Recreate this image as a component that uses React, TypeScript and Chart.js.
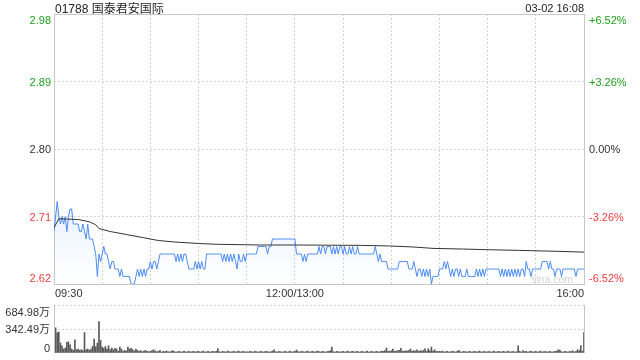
import { useEffect, useRef } from "react";
import { Chart, registerables } from "chart.js";

Chart.register(...registerables);

const title = "01788 国泰君安国际";
const timestamp = "03-02 16:08";
const watermark = "sina.com";
const prevClose = 2.8;

const priceTicks = [2.62, 2.71, 2.8, 2.89, 2.98];
const priceTickLabels = ["2.62", "2.71", "2.80", "2.89", "2.98"];
const pctTickLabels = ["-6.52%", "-3.26%", "0.00%", "+3.26%", "+6.52%"];

const timeLabels = ["09:30", "12:00/13:00", "16:00"];
const timeLabelMinutes = [0, 150, 330];

const volumeTicks = [0, 342.49, 684.98];
const volumeTickLabels = ["0", "342.49万", "684.98万"];

// price per minute, index 0 = 09:30, 150 = 12:00/13:00, 330 = 16:00
const price = [
  2.69, 2.71, 2.73, 2.71, 2.7, 2.71, 2.7, 2.71, 2.69, 2.71,
  2.72, 2.72, 2.7, 2.7, 2.7, 2.7, 2.69, 2.69, 2.7, 2.69,
  2.68, 2.7, 2.68, 2.68, 2.68, 2.67, 2.66, 2.63, 2.66, 2.65,
  2.66, 2.67, 2.66, 2.66, 2.65, 2.64, 2.65, 2.65, 2.64, 2.64,
  2.64, 2.63, 2.64, 2.63, 2.63, 2.63, 2.63, 2.63, 2.62, 2.62,
  2.62, 2.63, 2.64, 2.63, 2.64, 2.63, 2.64, 2.63, 2.64, 2.64,
  2.65, 2.64, 2.65, 2.65, 2.64, 2.65, 2.66, 2.66, 2.66, 2.66,
  2.66, 2.66, 2.66, 2.66, 2.66, 2.66, 2.65, 2.66, 2.65, 2.66,
  2.65, 2.66, 2.66, 2.65, 2.64, 2.64, 2.64, 2.64, 2.65, 2.64,
  2.65, 2.64, 2.65, 2.64, 2.64, 2.66, 2.66, 2.66, 2.66, 2.66,
  2.66, 2.66, 2.66, 2.66, 2.66, 2.65, 2.66, 2.65, 2.66, 2.65,
  2.66, 2.65, 2.66, 2.65, 2.64, 2.66, 2.65, 2.65, 2.66, 2.65,
  2.66, 2.66, 2.66, 2.66, 2.66, 2.66, 2.66, 2.67, 2.67, 2.67,
  2.67, 2.67, 2.67, 2.66, 2.67, 2.67, 2.68, 2.68, 2.68, 2.68,
  2.68, 2.68, 2.68, 2.68, 2.68, 2.68, 2.68, 2.68, 2.68, 2.68,
  2.68, 2.66, 2.66, 2.66, 2.66, 2.65, 2.66, 2.65, 2.66, 2.66,
  2.66, 2.66, 2.66, 2.66, 2.66, 2.67, 2.66, 2.67, 2.67, 2.66,
  2.67, 2.67, 2.67, 2.66, 2.67, 2.66, 2.67, 2.66, 2.67, 2.67,
  2.66, 2.67, 2.66, 2.66, 2.67, 2.66, 2.67, 2.66, 2.66, 2.67,
  2.66, 2.66, 2.66, 2.66, 2.66, 2.66, 2.66, 2.66, 2.66, 2.66,
  2.67, 2.66, 2.65, 2.66, 2.65, 2.65, 2.65, 2.65, 2.64, 2.64,
  2.64, 2.64, 2.64, 2.64, 2.64, 2.65, 2.65, 2.65, 2.65, 2.65,
  2.65, 2.64, 2.64, 2.64, 2.65, 2.64, 2.63, 2.64, 2.64, 2.63,
  2.64, 2.63, 2.64, 2.63, 2.64, 2.62, 2.63, 2.63, 2.63, 2.63,
  2.64, 2.64, 2.64, 2.65, 2.64, 2.65, 2.64, 2.63, 2.64, 2.63,
  2.64, 2.64, 2.63, 2.64, 2.63, 2.63, 2.63, 2.64, 2.63, 2.63,
  2.63, 2.63, 2.63, 2.64, 2.63, 2.64, 2.63, 2.64, 2.63, 2.64,
  2.64, 2.64, 2.64, 2.64, 2.64, 2.64, 2.64, 2.64, 2.63, 2.64,
  2.63, 2.64, 2.63, 2.64, 2.63, 2.64, 2.63, 2.64, 2.63, 2.64,
  2.63, 2.64, 2.64, 2.63, 2.65, 2.64, 2.64, 2.63, 2.64, 2.64,
  2.64, 2.64, 2.64, 2.64, 2.65, 2.65, 2.65, 2.65, 2.64, 2.65,
  2.64, 2.64, 2.63, 2.64, 2.64, 2.64, 2.63, 2.64, 2.64, 2.64,
  2.64, 2.64, 2.64, 2.64, 2.64, 2.63, 2.64, 2.64, 2.64, 2.64, 2.64,
];

// average price line, read at its turning points
const avgMinutes = [0, 3, 15, 22, 26, 28, 35, 45, 55, 65, 75, 90, 101, 128, 150, 191, 209, 224, 236, 255, 271, 290, 315, 330];
const avgValues = [2.695, 2.707, 2.706, 2.703, 2.699, 2.694, 2.69, 2.686, 2.682, 2.678, 2.676, 2.674, 2.673, 2.672, 2.672, 2.6715, 2.6707, 2.6693, 2.6675, 2.6666, 2.6657, 2.6648, 2.6635, 2.6625];

// volume per minute (万)
const volume = [
  120, 360, 290, 300, 142, 104, 57, 71, 151, 160,
  118, 57, 38, 189, 47, 57, 38, 47, 33, 293,
  47, 57, 38, 57, 94, 198, 90, 142, 448, 179,
  85, 66, 94, 57, 104, 47, 71, 47, 66, 57,
  24, 85, 57, 24, 38, 28, 85, 57, 66, 47,
  28, 57, 38, 24, 33, 19, 28, 38, 24, 19,
  24, 33, 47, 28, 19, 24, 38, 14, 24, 19,
  28, 19, 14, 24, 33, 19, 14, 19, 24, 14,
  19, 28, 14, 19, 24, 14, 19, 24, 14, 19,
  24, 14, 19, 28, 14, 19, 24, 14, 19, 24,
  19, 24, 61, 19, 14, 24, 19, 14, 28, 19,
  14, 19, 24, 14, 19, 28, 14, 19, 24, 14,
  19, 14, 24, 19, 14, 28, 19, 14, 19, 24,
  14, 19, 24, 19, 14, 19, 28, 47, 19, 14,
  24, 19, 14, 19, 24, 14, 19, 28, 14, 19,
  24, 42, 19, 14, 24, 19, 14, 19, 28, 14,
  19, 24, 14, 19, 28, 19, 14, 24, 19, 14,
  19, 24, 33, 85, 19, 14, 24, 19, 14, 19,
  24, 14, 19, 28, 14, 19, 24, 14, 19, 24,
  14, 19, 24, 14, 19, 28, 14, 19, 24, 14,
  19, 24, 14, 19, 28, 24, 33, 71, 28, 24,
  33, 57, 24, 28, 33, 38, 66, 28, 24, 33,
  28, 38, 57, 24, 33, 28, 47, 24, 33, 28,
  38, 61, 24, 61, 33, 85, 28, 47, 24, 19,
  24, 19, 28, 14, 19, 24, 14, 19, 24, 19,
  14, 24, 38, 19, 14, 24, 19, 14, 19, 24,
  14, 19, 24, 14, 19, 28, 14, 19, 24, 14,
  19, 24, 14, 19, 28, 14, 19, 24, 14, 19,
  24, 14, 19, 28, 14, 19, 24, 14, 19, 104,
  24, 14, 33, 19, 24, 14, 19, 28, 14, 19,
  24, 14, 19, 28, 14, 19, 24, 14, 19, 24,
  14, 19, 24, 28, 47, 38, 19, 14, 24, 19,
  14, 24, 19, 33, 14, 24, 47, 33, 104, 28,
  293,
];

const FONT = '"Liberation Sans", Arial, "Noto Sans CJK SC", sans-serif';
const GREEN = "#1c9e1c";
const RED = "#ee3b3b";
const NEUTRAL = "#333333";
const GRID = "#d2d2d2";
const FRAME = "#c8c8c8";
const BLUE = "#4c8cf2";

function labelColor(v: number) {
  if (v > prevClose + 1e-9) return GREEN;
  if (v < prevClose - 1e-9) return RED;
  return NEUTRAL;
}

const mainPlugin = {
  id: "mainText",
  beforeDatasetsDraw(chart: any) {
    const { ctx, chartArea: a } = chart;
    ctx.save();
    ctx.font = "10.5px " + FONT;
    ctx.fillStyle = "#d4d4d4";
    ctx.textAlign = "right";
    ctx.textBaseline = "alphabetic";
    ctx.fillText(watermark, a.right - 11, a.bottom - 1);
    ctx.strokeStyle = FRAME;
    ctx.lineWidth = 1;
    ctx.strokeRect(a.left + 0.5, a.top + 0.5, a.right - a.left, a.bottom - a.top);
    ctx.restore();
  },
  afterDraw(chart: any) {
    const { ctx, chartArea: a, scales } = chart;
    ctx.save();
    ctx.textBaseline = "alphabetic";
    ctx.font = "12px " + FONT;
    ctx.fillStyle = "#222";
    ctx.textAlign = "left";
    ctx.fillText(title, a.left + 1, 13);
    ctx.font = "11px " + FONT;
    ctx.textAlign = "right";
    ctx.fillText(timestamp, a.right, 12);

    priceTicks.forEach((v, i) => {
      const y = scales.y.getPixelForValue(v);
      let by = y + 4;
      if (i === priceTicks.length - 1) by = a.top + 10;
      if (i === 0) by = a.bottom - 2.5;
      ctx.fillStyle = labelColor(v);
      ctx.textAlign = "right";
      ctx.fillText(priceTickLabels[i], a.left - 3, by);
      ctx.textAlign = "left";
      ctx.fillText(pctTickLabels[i], a.right + 5, by);
    });

    ctx.fillStyle = "#333";
    timeLabels.forEach((t, i) => {
      const x = scales.x.getPixelForValue(timeLabelMinutes[i]);
      ctx.textAlign = i === 0 ? "left" : i === timeLabels.length - 1 ? "right" : "center";
      ctx.fillText(t, i === 0 ? x + 1 : x, a.bottom + 13);
    });
    ctx.restore();
  },
};

const volPlugin = {
  id: "volText",
  afterDraw(chart: any) {
    const { ctx, chartArea: a, scales } = chart;
    ctx.save();
    ctx.strokeStyle = FRAME;
    ctx.lineWidth = 1;
    ctx.beginPath();
    ctx.moveTo(a.left + 0.5, a.top);
    ctx.lineTo(a.left + 0.5, a.bottom);
    ctx.moveTo(a.right + 0.5, a.top);
    ctx.lineTo(a.right + 0.5, a.bottom);
    ctx.stroke();
    ctx.font = "11px " + FONT;
    ctx.fillStyle = "#333";
    ctx.textAlign = "right";
    ctx.textBaseline = "alphabetic";
    volumeTicks.forEach((v, i) => {
      const y = scales.y.getPixelForValue(v);
      let by = y + 4;
      if (i === volumeTicks.length - 1) by = a.top + 11;
      if (i === 0) by = a.bottom - 1;
      ctx.fillText(volumeTickLabels[i], a.left - 4, by);
    });
    ctx.restore();
  },
};

export default function App() {
  const mainRef = useRef<HTMLCanvasElement>(null);
  const volRef = useRef<HTMLCanvasElement>(null);

  useEffect(() => {
    const priceData = price.map((v, i) => ({ x: i, y: v }));
    const avgData = avgMinutes.map((m, i) => ({ x: m, y: avgValues[i] }));
    const volData = volume.map((v, i) => ({ x: i, y: v }));

    const main = new Chart(mainRef.current as HTMLCanvasElement, {
      type: "line",
      data: {
        datasets: [
          {
            data: avgData,
            borderColor: "#333333",
            borderWidth: 1,
            pointRadius: 0,
            fill: false,
            tension: 0,
          },
          {
            data: priceData,
            borderColor: BLUE,
            borderWidth: 1,
            pointRadius: 0,
            tension: 0,
            fill: "start",
            backgroundColor: (c: any) => {
              const area = c.chart.chartArea;
              if (!area) return "rgba(76,140,242,0.06)";
              const g = c.chart.ctx.createLinearGradient(0, area.top + (area.bottom - area.top) * 0.7, 0, area.bottom);
              g.addColorStop(0, "rgba(76,140,242,0.12)");
              g.addColorStop(1, "rgba(76,140,242,0.0)");
              return g;
            },
          },
        ],
      },
      options: {
        responsive: false,
        animation: false,
        events: [],
        layout: { padding: { top: 14, left: 0, right: 0, bottom: 0 } },
        plugins: { legend: { display: false }, tooltip: { enabled: false } },
        scales: {
          x: {
            type: "linear",
            min: 0,
            max: 330,
            ticks: { display: false, stepSize: 30 },
            grid: {
              drawTicks: false,
              color: (c: any) => (c.index === 0 || c.index === 11 ? "rgba(0,0,0,0)" : GRID),
            },
            border: { display: false, dash: [2, 2] },
            afterFit: (s: any) => {
              s.height = 18;
            },
          },
          y: {
            min: 2.62,
            max: 2.98,
            afterBuildTicks: (s: any) => {
              s.ticks = priceTicks.map((v) => ({ value: v }));
            },
            ticks: { display: false },
            grid: {
              drawTicks: false,
              color: (c: any) => (c.index === 0 || c.index === priceTicks.length - 1 ? "rgba(0,0,0,0)" : GRID),
            },
            border: { display: false, dash: [2, 2] },
            afterFit: (s: any) => {
              s.width = 54;
            },
          },
          y2: {
            position: "right",
            min: 2.62,
            max: 2.98,
            ticks: { display: false },
            grid: { display: false, drawTicks: false },
            border: { display: false },
            afterFit: (s: any) => {
              s.width = 56;
            },
          },
        },
      },
      plugins: [mainPlugin],
    } as any);

    const vol = new Chart(volRef.current as HTMLCanvasElement, {
      type: "bar",
      data: {
        datasets: [
          {
            data: volData,
            backgroundColor: "#5a5a5a",
            borderWidth: 0,
            barThickness: 1,
            grouped: false,
          },
        ],
      },
      options: {
        responsive: false,
        animation: false,
        events: [],
        layout: { padding: { top: 3, left: 0, right: 56, bottom: 0 } },
        plugins: { legend: { display: false }, tooltip: { enabled: false } },
        scales: {
          x: {
            type: "linear",
            min: 0,
            max: 330,
            offset: false,
            ticks: { display: false },
            grid: { display: false, drawTicks: false },
            border: { display: false },
            afterFit: (s: any) => {
              s.height = 7;
            },
          },
          y: {
            min: 0,
            max: 684.98,
            afterBuildTicks: (s: any) => {
              s.ticks = volumeTicks.map((v) => ({ value: v }));
            },
            ticks: { display: false },
            grid: {
              drawTicks: false,
              color: (c: any) => (c.index === 0 ? "rgba(0,0,0,0)" : GRID),
            },
            border: { display: false, dash: [2, 2] },
            afterFit: (s: any) => {
              s.width = 54;
            },
          },
        },
      },
      plugins: [volPlugin],
    } as any);

    return () => {
      main.destroy();
      vol.destroy();
    };
  }, []);

  return (
    <div style={{ position: "absolute", left: 0, top: 0, width: 640, height: 360, background: "#fff" }}>
      <canvas ref={mainRef} width={640} height={302} style={{ position: "absolute", left: 0, top: 0 }} />
      <canvas ref={volRef} width={640} height={58} style={{ position: "absolute", left: 0, top: 302 }} />
    </div>
  );
}
